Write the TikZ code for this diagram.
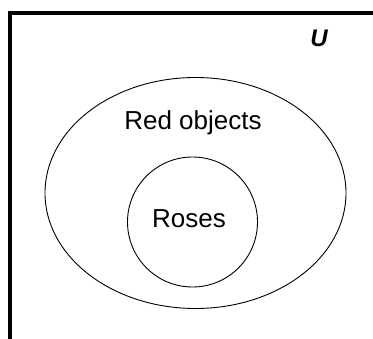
\documentclass[tikz,border=0pt]{standalone}
\usepackage{fontspec}
\setmainfont{Liberation Sans}
\usepackage{tikz}
\usetikzlibrary{calc}
\tikzset{
    frame/.style={draw=black, line width=3.5pt},
    setline/.style={draw=black, line width=0.9pt},
    setlabel/.style={font=\fontsize{26}{30}\selectfont, inner sep=0pt},
    unilabel/.style={font=\fontsize{24}{28}\selectfont\bfseries\itshape, inner sep=0pt}
}
\begin{document}
\begin{tikzpicture}[x=1pt, y=-1pt]
    \useasboundingbox (0,0) rectangle (373,339);
    \draw[frame] (10,345) -- (10,13) -- (380,13);
    \draw[setline] (195.5,193) ellipse (150.5 and 115.5);
    \draw[setline] (192.5,222) circle (65);
    \node[unilabel] (uni) at (319,38.5) {U};
    \node[setlabel] (red) at (193,123) {Red objects};
    \node[setlabel] (roses) at (189,219) {Roses};
\end{tikzpicture}
\end{document}
